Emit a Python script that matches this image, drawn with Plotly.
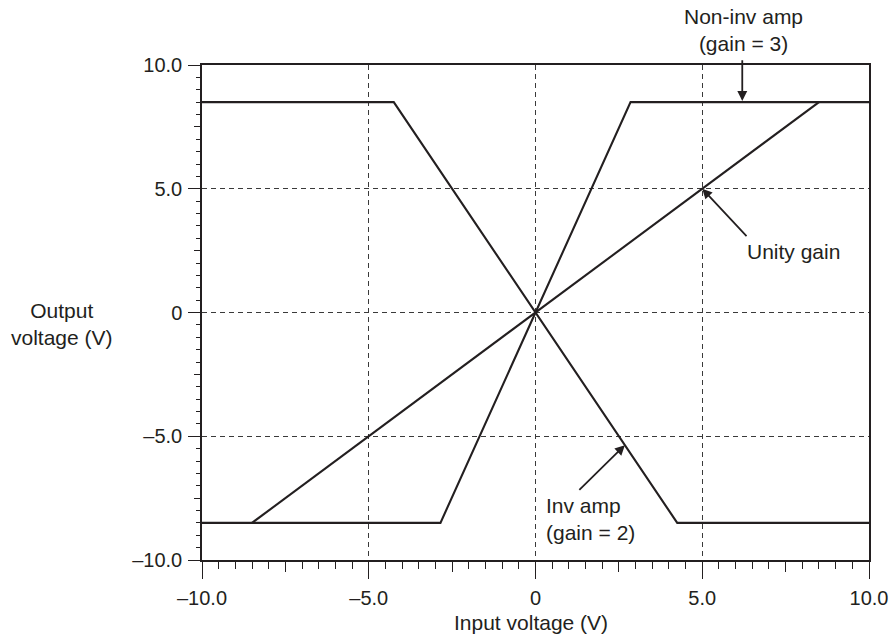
import plotly.graph_objects as go

# Transfer characteristics of three op-amp configurations (rails at +/-8.5 V)
inv_x = [-10.0, -4.25, 4.25, 10.0]
inv_y = [8.5, 8.5, -8.5, -8.5]

noninv_x = [-10.0, -2.85, 2.85, 10.0]
noninv_y = [-8.5, -8.5, 8.5, 8.5]

unity_x = [-8.5, 8.5]
unity_y = [-8.5, 8.5]

# Axis ticks
major_vals = [-10, -5, 0, 5, 10]
major_text = ["\u201310.0", "\u20135.0", "0", "5.0", "10.0"]
mid_vals = [-7.5, -2.5, 2.5, 7.5]

INK = "#231f20"
FONT = dict(family="Liberation Sans, Arial, sans-serif", size=20, color=INK)
LABEL_FONT = dict(FONT, size=21)
LINE = dict(color=INK, width=2.1)

fig = go.Figure()
for xs, ys in [(inv_x, inv_y), (noninv_x, noninv_y), (unity_x, unity_y)]:
    fig.add_trace(go.Scatter(x=xs, y=ys, mode="lines", line=LINE,
                             showlegend=False, hoverinfo="skip"))

common = dict(range=[-10, 10], showline=True, linecolor=INK, linewidth=1.5,
              zeroline=False, tickfont=FONT, tickcolor=INK, tickwidth=1.3,
              showgrid=True, gridcolor="#3a3a3a", gridwidth=1, griddash="5px,4px",
              fixedrange=True, automargin=False)

fig.update_layout(
    width=891, height=642,
    margin=dict(l=202, r=22, t=65, b=82),
    paper_bgcolor="white", plot_bgcolor="white",
    font=FONT,
    xaxis=dict(common, tickmode="array", tickvals=major_vals, ticktext=major_text,
               ticks="outside", ticklen=17, mirror=True, ticklabelstandoff=2,
               minor=dict(dtick=0.5, tick0=0, ticks="outside", ticklen=7,
                          tickcolor=INK, tickwidth=1.3, showgrid=False)),
    yaxis=dict(common, tickmode="array", tickvals=major_vals, ticktext=major_text,
               ticks="outside", ticklen=12, mirror=True, ticklabelstandoff=2,
               minor=dict(dtick=0.5, tick0=0, ticks="outside", ticklen=4,
                          tickcolor=INK, tickwidth=1.3, showgrid=False)),
    # mid-length ticks halfway between labelled values
    xaxis2=dict(range=[-10, 10], overlaying="x", anchor="y", side="bottom",
                tickmode="array", tickvals=mid_vals, showticklabels=False,
                ticks="outside", ticklen=11, tickcolor=INK, tickwidth=1.3,
                showgrid=False, zeroline=False, showline=False, fixedrange=True,
                automargin=False),
    yaxis2=dict(range=[-10, 10], overlaying="y", anchor="x", side="left",
                tickmode="array", tickvals=mid_vals, showticklabels=False,
                ticks="outside", ticklen=7, tickcolor=INK, tickwidth=1.3,
                showgrid=False, zeroline=False, showline=False, fixedrange=True,
                automargin=False),
)
# dummy trace so the secondary axes are rendered
fig.add_trace(go.Scatter(x=[None], y=[None], xaxis="x2", yaxis="y2",
                         showlegend=False, hoverinfo="skip"))

arrow = dict(showarrow=True, arrowhead=2, arrowsize=1.1, arrowwidth=1.8,
             arrowcolor=INK, axref="x", ayref="y", xref="x", yref="y", text="")

# Arrows pointing at the curves
fig.add_annotation(arrow, x=6.2, y=8.55, ax=6.2, ay=10.25)
fig.add_annotation(arrow, x=5.0, y=5.0, ax=6.37, ay=3.03)
fig.add_annotation(arrow, x=2.68, y=-5.36, ax=1.27, ay=-7.23)

# Curve labels
fig.add_annotation(x=6.24, y=1.0707, xref="x", yref="paper", showarrow=False,
                   text="Non-inv amp<br>(gain = 3)", font=LABEL_FONT, align="center",
                   xanchor="center", yanchor="middle")
fig.add_annotation(x=7.75, y=2.45, xref="x", yref="y", showarrow=False,
                   text="Unity gain", font=LABEL_FONT, xanchor="center", yanchor="middle")
fig.add_annotation(x=0.25, y=-8.35, xref="x", yref="y", showarrow=False,
                   text="Inv amp<br>(gain = 2)", font=LABEL_FONT, xanchor="left",
                   yanchor="middle", align="left")

# Axis titles
fig.add_annotation(x=-0.21, y=-0.45, xref="paper", yref="y", showarrow=False,
                   text="Output<br>voltage (V)", font=LABEL_FONT, align="center",
                   xanchor="center", yanchor="middle")
fig.add_annotation(x=-0.15, y=-0.127, xref="x", yref="paper", showarrow=False,
                   text="Input voltage (V)", font=LABEL_FONT,
                   xanchor="center", yanchor="middle")

fig.write_html("out.html")
